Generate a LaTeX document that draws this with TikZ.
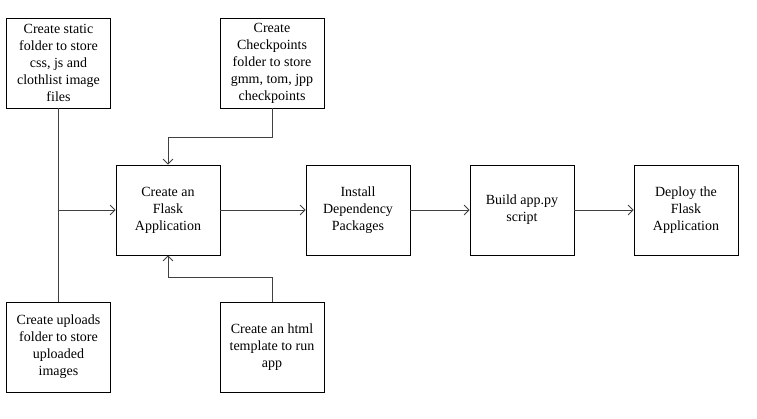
\documentclass[tikz,border=0pt]{standalone}
\usepackage{fontspec}
\setmainfont{Liberation Serif}
\usetikzlibrary{arrows.meta, positioning}

\begin{document}
\begin{tikzpicture}[x=1pt,y=1pt,on grid,
  every node/.style={font=\fontsize{14}{17}\selectfont},
  stepbox/.style={draw,line width=0.8pt,minimum width=104pt,minimum height=90pt,align=center,inner sep=2pt},
  link/.style={draw=black!75,line width=0.8pt},
  >={Straight Barb[length=5pt,width=10pt]}]
  \useasboundingbox (0,0) rectangle (757,418);

  \node[stepbox] (flask)   at (168,208)                       {Create an\\Flask\\Application};
  \node[stepbox] (install) [right=190pt of flask]             {Install\\Dependency\\Packages};
  \node[stepbox] (build)   [right=164pt of install]           {Build app.py\\script};
  \node[stepbox] (deploy)  [right=164pt of build]             {Deploy the\\Flask\\Application};
  \node[stepbox] (static)  [above left=147pt and 109.5pt of flask]  {Create static\\folder to store\\css, js and\\clothlist image\\files};
  \node[stepbox] (ckpt)    [above right=147pt and 104pt of flask]   {Create\\Checkpoints\\folder to store\\gmm, tom, jpp\\checkpoints};
  \node[stepbox] (uploads) [below left=137pt and 109.5pt of flask]  {Create uploads\\folder to store\\uploaded\\images};
  \node[stepbox] (html)    [below right=137pt and 104pt of flask]   {Create an html\\template to run\\app};

  \path[link] (static) -- (uploads);
  \path[link,->] (static |- flask.west) -- (flask.west);
  \path[link,->] (ckpt.south) -- ++(0,-29) -| (flask.north);
  \path[link,->] (html.north) -- ++(0,24) -| (flask.south);
  \path[link,->] (flask) -- (install);
  \path[link,->] (install) -- (build);
  \path[link,->] (build) -- (deploy);
\end{tikzpicture}
\end{document}
